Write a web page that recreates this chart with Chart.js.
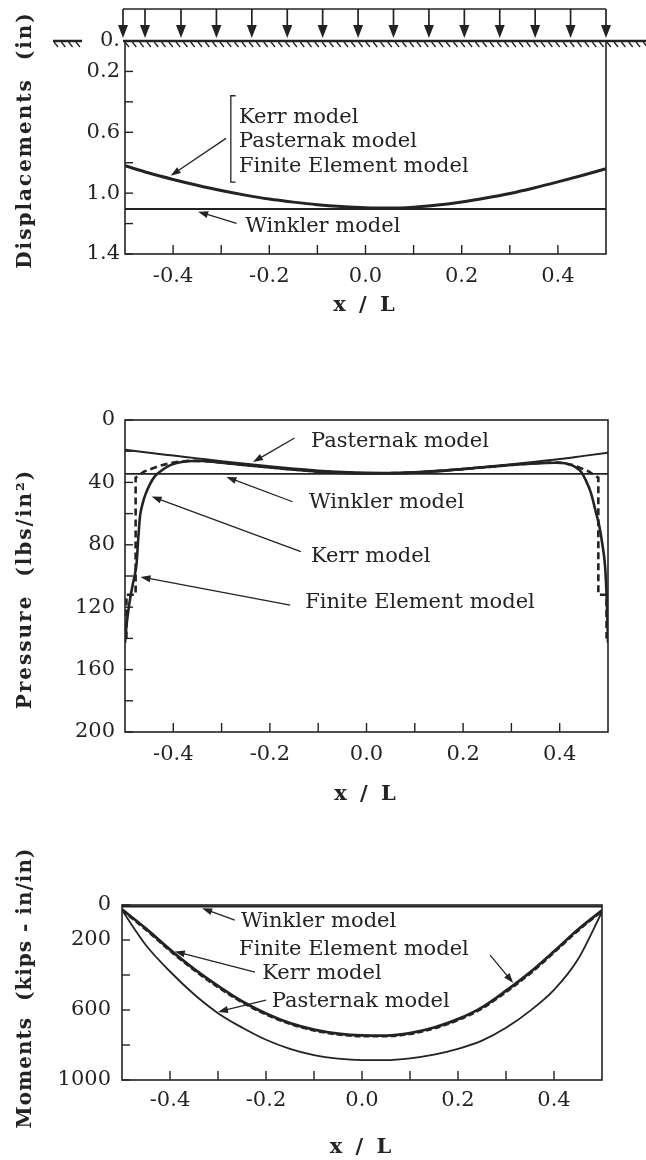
<!DOCTYPE html>
<html>
<head>
<meta charset="utf-8">
<script src="https://cdn.jsdelivr.net/npm/chart.js@4.4.1/dist/chart.umd.min.js"></script>
<style>
html, body { margin: 0; background: #fff; }
#wrap { position: relative; width: 646px; height: 1160px; }
canvas { position: absolute; left: 0; }
</style>
</head>
<body>
<div id="wrap">
<canvas id="dispChart" width="646" height="330" style="top:0px"></canvas>
<canvas id="pressChart" width="646" height="420" style="top:390px"></canvas>
<canvas id="momentChart" width="646" height="340" style="top:820px"></canvas>
</div>
<script>
/* stations along the beam, x / L */
const xStations = [-0.5, -0.45, -0.4, -0.35, -0.3, -0.25, -0.2, -0.15, -0.1, -0.05, 0,
  0.05, 0.1, 0.15, 0.2, 0.25, 0.3, 0.35, 0.4, 0.45, 0.5];

/* displacements (in) - Kerr, Pasternak and FE lie on one curve */
const dispShared = [0.82, 0.868, 0.91, 0.948, 0.983, 1.013, 1.039, 1.059, 1.076, 1.088, 1.096,
  1.098, 1.092, 1.078, 1.058, 1.032, 1.002, 0.966, 0.926, 0.884, 0.84];
const winklerDispX = [-0.5, 0.5];
const winklerDisp = [1.105, 1.105];

/* pressures (lbs/in2) */
const pasternakPress = [19.0, 21.0, 22.8, 24.6, 26.4, 28.1, 29.7, 31.1, 32.3, 33.2, 33.7,
  33.8, 33.3, 32.4, 31.2, 29.8, 28.3, 26.7, 25.0, 23.0, 21.0];
const winklerPressX = [-0.5, 0.5];
const winklerPress = [34.5, 34.5];
const kerrPressX = [-0.5, -0.497, -0.493, -0.488, -0.483, -0.479, -0.476, -0.473, -0.469, -0.463,
  -0.458, -0.448, -0.438, -0.425, -0.413, -0.395, -0.379, -0.36, -0.34, -0.32, -0.3, -0.25, -0.2,
  -0.15, -0.1, -0.05, 0, 0.05, 0.1, 0.15, 0.2, 0.25, 0.3, 0.35, 0.39, 0.415, 0.432, 0.445, 0.453,
  0.465, 0.474, 0.482, 0.488, 0.494, 0.497, 0.5];
const kerrPress = [143, 132, 122, 112, 104, 98, 92, 78, 62, 53,
  48, 41, 36, 32.5, 30, 27.8, 26.8, 26.3, 26.3, 26.7, 27.3, 28.9, 30.4,
  31.9, 33.1, 33.9, 34.3, 34.3, 33.8, 32.8, 31.5, 30.1, 28.8, 27.8, 27.4, 28.0, 30.0, 33.5, 38,
  47, 58, 68, 79, 94, 112, 143];
const fePressX = [-0.497, -0.497, -0.478, -0.478, -0.46, -0.43, -0.4, -0.37, -0.34, -0.3, -0.25,
  -0.2, -0.1, 0, 0.1, 0.2, 0.3, 0.36, 0.4, 0.43, 0.46, 0.48, 0.48, 0.497, 0.497];
const fePress = [140, 112, 112, 37, 33, 29.5, 27.2, 26.2, 26.2, 27.2, 28.9,
  30.4, 33.1, 34.3, 33.8, 31.5, 28.8, 27.5, 27.2, 29.0, 33, 37, 112, 112, 140];

/* moments (kips-in/in) */
const pasternakMoment = [30, 230, 380, 510, 618, 700, 770, 822, 858, 878, 886,
  886, 876, 855, 822, 775, 702, 605, 485, 310, 40];
const kerrMoment = [25, 135, 255, 365, 462, 550, 620, 675, 712, 735, 745,
  746, 732, 700, 652, 585, 490, 385, 265, 140, 30];
const feMoment = [30, 142, 262, 372, 470, 556, 626, 680, 717, 740, 750,
  750, 737, 706, 658, 592, 498, 393, 272, 147, 35];
const winklerMomentX = [-0.5, 0.5];
const winklerMoment = [8, 8];

/* tick labels */
const xTickVals = [-0.4, -0.2, 0, 0.2, 0.4];
const xTickText = ['-0.4', '-0.2', '0.0', '0.2', '0.4'];
const dispTickVals = [0, 0.2, 0.6, 1.0, 1.4];
const dispTickText = ['0.', '0.2', '0.6', '1.0', '1.4'];
const pressTickVals = [0, 40, 80, 120, 160, 200];
const pressTickText = ['0', '40', '80', '120', '160', '200'];
const momentTickVals = [0, 200, 600, 1000];
const momentTickText = ['0', '200', '600', '1000'];

const INK = '#232323';
const SERIF = '"DejaVu Serif", serif';

function pts(xs, ys) {
  return xs.map((x, i) => ({ x: x, y: ys[i] }));
}

function labelFor(vals, texts) {
  return function (v) {
    for (let i = 0; i < vals.length; i++) {
      if (Math.abs(v - vals[i]) < 1e-6) return texts[i];
    }
    return '';
  };
}

function arrowTo(ctx, x1, y1, x2, y2) {
  const a = Math.atan2(y2 - y1, x2 - x1);
  const L = 10, W = 3.5;
  ctx.beginPath();
  ctx.moveTo(x1, y1);
  ctx.lineTo(x2 - Math.cos(a) * L * 0.7, y2 - Math.sin(a) * L * 0.7);
  ctx.stroke();
  ctx.beginPath();
  ctx.moveTo(x2, y2);
  ctx.lineTo(x2 - L * Math.cos(a) + W * Math.sin(a), y2 - L * Math.sin(a) - W * Math.cos(a));
  ctx.lineTo(x2 - L * Math.cos(a) - W * Math.sin(a), y2 - L * Math.sin(a) + W * Math.cos(a));
  ctx.closePath();
  ctx.fill();
}

/* box, inward ticks, axis titles and the loaded-beam sketch */
const framePlugin = {
  id: 'frame',
  afterDraw(chart, args, opts) {
    const { ctx, chartArea: a, scales } = chart;
    ctx.save();
    ctx.strokeStyle = INK;
    ctx.fillStyle = INK;
    ctx.lineWidth = 1.6;
    ctx.strokeRect(a.left, a.top, a.right - a.left, a.bottom - a.top);

    ctx.lineWidth = 1.4;
    scales.x.ticks.forEach(t => {
      if (Math.abs(t.value) > 0.45) return;
      const px = scales.x.getPixelForValue(t.value);
      ctx.beginPath(); ctx.moveTo(px, a.bottom); ctx.lineTo(px, a.bottom - 9); ctx.stroke();
    });
    scales.y.ticks.forEach(t => {
      const py = scales.y.getPixelForValue(t.value);
      ctx.beginPath(); ctx.moveTo(a.left, py); ctx.lineTo(a.left + 8, py); ctx.stroke();
    });

    if (opts.load) {
      // ground line with hatching
      ctx.lineWidth = 2.6;
      ctx.beginPath();
      ctx.moveTo(a.left - 2, a.top); ctx.lineTo(chart.width, a.top);
      ctx.moveTo(53, a.top); ctx.lineTo(82, a.top);
      ctx.stroke();
      ctx.lineWidth = 1.3;
      ctx.beginPath();
      for (let hx = a.left; hx < chart.width; hx += 7.3) {
        ctx.moveTo(hx, a.top + 1); ctx.lineTo(hx + 4, a.top + 6);
      }
      for (let hx = 54; hx < 82; hx += 7.3) {
        ctx.moveTo(hx, a.top + 1); ctx.lineTo(hx + 4, a.top + 6);
      }
      ctx.stroke();
      // uniform load
      const top = 9, tip = a.top - 3;
      ctx.lineWidth = 1.7;
      ctx.beginPath(); ctx.moveTo(a.left - 2, top); ctx.lineTo(a.right, top); ctx.stroke();
      const w = a.right - a.left;
      const xs = [a.left - 2, a.left + 20];
      for (let k = 0; k <= 12; k++) xs.push(a.left + 56 + k * (w - 56) / 12);
      xs.forEach(px => {
        ctx.beginPath(); ctx.moveTo(px, top); ctx.lineTo(px, tip - 11); ctx.stroke();
        ctx.beginPath();
        ctx.moveTo(px - 5, tip - 13); ctx.lineTo(px + 5, tip - 13); ctx.lineTo(px, tip);
        ctx.closePath(); ctx.fill();
      });
    }

    // axis titles
    ctx.font = 'bold 20px ' + SERIF;
    ctx.letterSpacing = opts.yTitle.spacing + 'px';
    ctx.textAlign = 'center';
    ctx.textBaseline = 'middle';
    ctx.save();
    ctx.translate(opts.yTitle.x, opts.yTitle.y);
    ctx.rotate(-Math.PI / 2);
    ctx.fillText(opts.yTitle.text, 0, 0);
    ctx.restore();
    ctx.font = 'bold 21px ' + SERIF;
    ctx.letterSpacing = '3px';
    ctx.fillText('x / L', (a.left + a.right) / 2, opts.xTitleY);
    ctx.restore();
  }
};

/* model labels with leader arrows */
const notesPlugin = {
  id: 'notes',
  afterDatasetsDraw(chart, args, opts) {
    const { ctx, scales } = chart;
    const X = v => scales.x.getPixelForValue(v);
    const Y = v => scales.y.getPixelForValue(v);
    ctx.save();
    ctx.fillStyle = INK;
    ctx.strokeStyle = INK;
    ctx.font = '21px ' + SERIF;
    ctx.textAlign = 'left';
    ctx.textBaseline = 'middle';
    (opts.texts || []).forEach(n => ctx.fillText(n.text, X(n.x), Y(n.y)));
    ctx.lineWidth = 1.3;
    (opts.arrows || []).forEach(r => arrowTo(ctx, X(r[0]), Y(r[1]), X(r[2]), Y(r[3])));
    if (opts.bracket) {
      const b = opts.bracket;
      ctx.beginPath();
      ctx.moveTo(X(b.x2), Y(b.y1)); ctx.lineTo(X(b.x), Y(b.y1));
      ctx.lineTo(X(b.x), Y(b.y2)); ctx.lineTo(X(b.x2), Y(b.y2));
      ctx.stroke();
    }
    ctx.restore();
  }
};

function line(data, width, extra) {
  return Object.assign({
    data: data,
    borderColor: INK,
    borderWidth: width,
    pointRadius: 0,
    fill: false,
    cubicInterpolationMode: 'monotone'
  }, extra || {});
}

function panel(id, cfg) {
  return new Chart(document.getElementById(id), {
    type: 'line',
    data: { datasets: cfg.datasets },
    options: {
      responsive: false,
      animation: false,
      events: [],
      layout: { padding: { top: cfg.top, right: cfg.right, left: 0, bottom: 0 } },
      plugins: {
        legend: { display: false },
        tooltip: { enabled: false },
        frame: cfg.frame,
        notes: cfg.notes
      },
      scales: {
        x: {
          type: 'linear', min: -0.5, max: 0.5,
          grid: { display: false, drawTicks: false },
          border: { display: false },
          ticks: {
            stepSize: 0.1, autoSkip: false, maxRotation: 0, padding: cfg.xPad,
            color: INK, font: { family: SERIF, size: 21 },
            callback: labelFor(xTickVals, xTickText)
          },
          afterFit(s) { s.height = cfg.xHeight; }
        },
        y: {
          type: 'linear', reverse: true, min: cfg.yMin, max: cfg.yMax,
          grid: { display: false, drawTicks: false },
          border: { display: false },
          ticks: {
            stepSize: cfg.yStep, autoSkip: false, padding: cfg.yPad,
            color: INK, font: { family: SERIF, size: 21 },
            callback: labelFor(cfg.tickVals, cfg.tickText)
          },
          afterFit(s) { s.width = cfg.yWidth; }
        }
      }
    },
    plugins: [framePlugin, notesPlugin]
  });
}

/* Displacements */
panel('dispChart', {
  top: 41, right: 40, xHeight: 76, yWidth: 125, xPad: 10, yPad: 5,
  yMin: 0, yMax: 1.4, yStep: 0.2, tickVals: dispTickVals, tickText: dispTickText,
  datasets: [
    line(pts(winklerDispX, winklerDisp), 2),
    line(pts(xStations, dispShared), 3)
  ],
  frame: { load: true, yTitle: { text: 'Displacements  (in)', x: 26, y: 140, spacing: 2 }, xTitleY: 306 },
  notes: {
    texts: [
      { text: 'Kerr model', x: -0.263, y: 0.506 },
      { text: 'Pasternak model', x: -0.263, y: 0.664 },
      { text: 'Finite Element model', x: -0.263, y: 0.828 },
      { text: 'Winkler model', x: -0.25, y: 1.22 }
    ],
    arrows: [
      [-0.29, 0.64, -0.405, 0.885],
      [-0.268, 1.198, -0.348, 1.122]
    ],
    bracket: { x: -0.28, x2: -0.27, y1: 0.36, y2: 0.927 }
  }
});

/* Pressure */
panel('pressChart', {
  top: 30, right: 38, xHeight: 78, yWidth: 125, xPad: 10, yPad: 10,
  yMin: 0, yMax: 200, yStep: 20, tickVals: pressTickVals, tickText: pressTickText,
  datasets: [
    line(pts(winklerPressX, winklerPress), 1.8),
    line(pts(xStations, pasternakPress), 2),
    line(pts(kerrPressX, kerrPress), 2.6),
    line(pts(fePressX, fePress), 2.6, { borderDash: [7, 4], cubicInterpolationMode: 'default', tension: 0 })
  ],
  frame: { yTitle: { text: 'Pressure  (lbs/in\u00B2)', x: 26, y: 199, spacing: 2 }, xTitleY: 405 },
  notes: {
    texts: [
      { text: 'Pasternak model', x: -0.115, y: 13.9 },
      { text: 'Winkler model', x: -0.119, y: 53.2 },
      { text: 'Kerr model', x: -0.115, y: 87.6 },
      { text: 'Finite Element model', x: -0.127, y: 117.3 }
    ],
    arrows: [
      [-0.149, 11.5, -0.235, 27.0],
      [-0.153, 52.4, -0.29, 36.5],
      [-0.136, 84.4, -0.445, 49],
      [-0.158, 118.6, -0.468, 100.6]
    ]
  }
});

/* Moments */
panel('momentChart', {
  top: 85, right: 44, xHeight: 80, yWidth: 122, xPad: 8, yPad: 11,
  yMin: 0, yMax: 1000, yStep: 200, tickVals: momentTickVals, tickText: momentTickText,
  datasets: [
    line(pts(winklerMomentX, winklerMoment), 2),
    line(pts(xStations, pasternakMoment), 1.8),
    line(pts(xStations, kerrMoment), 2.8),
    line(pts(xStations, feMoment), 2.4, { borderDash: [6, 3] })
  ],
  frame: { yTitle: { text: 'Moments  (kips - in/in)', x: 26, y: 168, spacing: 1 }, xTitleY: 328 },
  notes: {
    texts: [
      { text: 'Winkler model', x: -0.252, y: 95 },
      { text: 'Finite Element model', x: -0.256, y: 257 },
      { text: 'Kerr model', x: -0.208, y: 389 },
      { text: 'Pasternak model', x: -0.188, y: 553 }
    ],
    arrows: [
      [-0.265, 86, -0.333, 19],
      [0.267, 286, 0.315, 446],
      [-0.223, 383, -0.39, 265],
      [-0.2, 543, -0.3, 611]
    ]
  }
});
</script>
</body>
</html>
